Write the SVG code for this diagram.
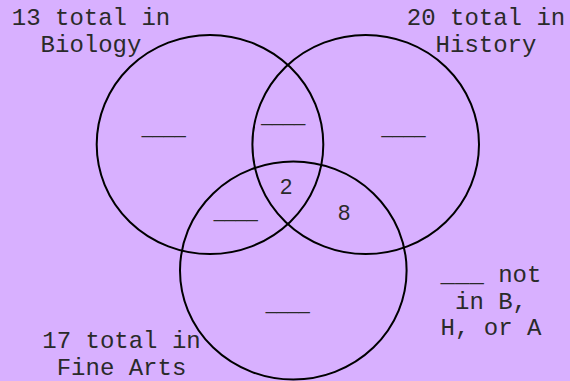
<svg xmlns="http://www.w3.org/2000/svg" width="570" height="381" viewBox="0 0 570 381">
<style>
.set{fill:none;stroke:#000;stroke-width:2}
.mono{font-family:"Liberation Mono","Courier New",monospace;font-size:24px;fill:#2a2a2a;text-anchor:middle}
.num{font-family:"Liberation Sans",Arial,sans-serif;font-size:22px;fill:#2a2a2a;text-anchor:middle}
</style>
<rect x="0" y="0" width="570" height="381" fill="#d8b0ff"/>
<g id="biology">
<ellipse class="set" cx="210" cy="144.5" rx="113.3" ry="109.5"/>
<text class="mono" x="91" y="25">13 total in</text>
<text class="mono" x="91" y="52">Biology</text>
</g>
<g id="history">
<ellipse class="set" cx="365.7" cy="144.5" rx="113.3" ry="109.5"/>
<text class="mono" x="486" y="25">20 total in</text>
<text class="mono" x="486" y="52">History</text>
</g>
<g id="finearts">
<ellipse class="set" cx="293.3" cy="270.5" rx="113.3" ry="109"/>
<text class="mono" x="121.5" y="348">17 total in</text>
<text class="mono" x="121.5" y="375">Fine Arts</text>
</g>
<g id="regions">
<text class="num" x="163.7" y="132.5" textLength="44" lengthAdjust="spacingAndGlyphs">____</text>
<text class="num" x="283.3" y="120.8" textLength="44" lengthAdjust="spacingAndGlyphs">____</text>
<text class="num" x="403.5" y="132.5" textLength="44" lengthAdjust="spacingAndGlyphs">____</text>
<text class="num" x="235.7" y="216.5" textLength="44" lengthAdjust="spacingAndGlyphs">____</text>
<text class="num" x="287.7" y="308.5" textLength="44" lengthAdjust="spacingAndGlyphs">____</text>
<text class="num" x="286.2" y="193.5">2</text>
<text class="num" x="344" y="219.5">8</text>
</g>
<g id="outside">
<text class="mono" x="491" y="282">___ not</text>
<text class="mono" x="491" y="308.5">in B,</text>
<text class="mono" x="491" y="335">H, or A</text>
</g>
</svg>
